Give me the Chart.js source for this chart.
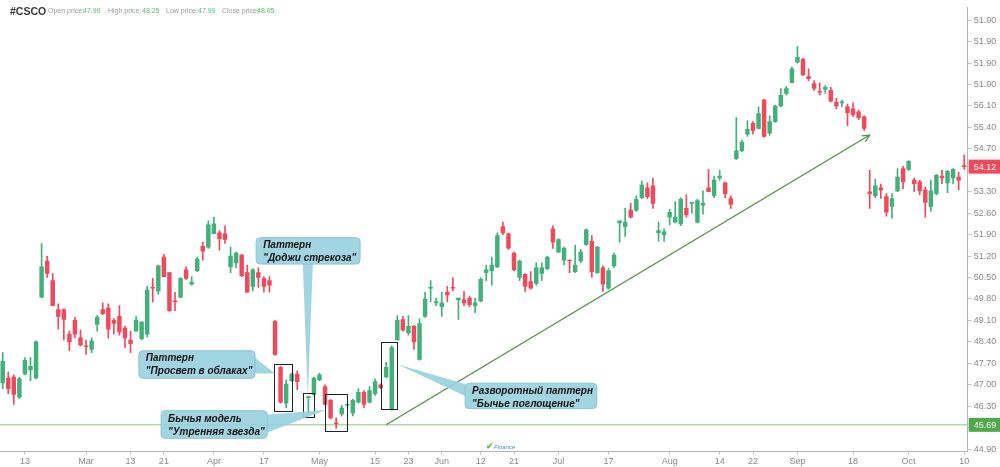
<!DOCTYPE html>
<html>
<head>
<meta charset="utf-8">
<script src="https://cdn.jsdelivr.net/npm/chart.js@4.4.0/dist/chart.umd.min.js"></script>
<style>
body{margin:0;background:#fff;}
#wrap{position:relative;width:1000px;height:467px;overflow:hidden;}
.hd{position:absolute;top:7px;font-family:"Liberation Sans",Arial,sans-serif;font-size:7px;color:#9a9a9a;white-space:nowrap;}
.val{color:#5cb87a;}
#ticker{position:absolute;left:10px;top:5px;font-family:"Liberation Sans",Arial,sans-serif;font-weight:bold;font-size:10.5px;color:#3a3a3a;}
#logo{position:absolute;left:486px;top:441px;font-family:"Liberation Sans",Arial,sans-serif;font-size:6px;font-style:italic;color:#3b8fd0;}
#logo b{color:#6cbf3a;font-size:9px;font-style:normal;}
</style>
</head>
<body>
<div id="wrap">
<canvas id="chart"></canvas>
<div id="ticker">#CSCO</div>
<div class="hd" style="left:48px">Open price:</div><div class="hd val" style="left:83px">47.99</div>
<div class="hd" style="left:108px">High price:</div><div class="hd val" style="left:142px">48.25</div>
<div class="hd" style="left:166px">Low price:</div><div class="hd val" style="left:198px">47.99</div>
<div class="hd" style="left:222px">Close price:</div><div class="hd val" style="left:257px">48.05</div>
<div id="logo"><b>&#10004;</b>Finance</div>
</div>
<script>
//data - daily candles, index = trading day
const opens = [47.06,47.22,47.25,46.59,47.35,47.48,47.22,49.86,51.04,50.40,49.45,49.45,48.65,49.10,48.53,48.27,48.15,48.97,49.45,49.51,
  49.10,49.23,48.85,48.46,48.75,48.50,48.65,50.18,50.06,51.17,50.66,49.74,49.86,50.75,50.28,50.72,51.52,51.49,51.93,51.96,
  51.93,50.85,50.98,51.23,50.66,50.21,50.66,50.47,50.40,49.07,47.57,46.40,47.13,47.35,null,46.58,46.68,47.16,46.94,46.49,
  45.75,46.05,46.33,46.08,46.43,46.75,46.43,46.71,47.00,47.26,46.20,48.46,49.13,48.69,48.91,47.83,49.23,50.15,49.67,49.55,
  50.02,50.18,49.77,49.77,49.83,49.58,49.74,50.66,50.72,50.85,52.16,51.93,51.30,50.50,50.60,50.37,50.31,50.63,50.79,52.09,
  51.33,51.07,51.07,50.69,51.04,51.58,51.68,50.66,50.82,50.15,50.88,52.28,52.16,52.70,52.70,53.11,53.43,53.49,51.96,51.90,
  52.47,52.31,52.25,52.76,52.92,52.31,52.86,53.43,53.17,53.75,53.59,53.08,54.38,54.64,55.18,55.53,55.37,56.29,55.21,55.59,
  56.10,56.51,56.86,57.53,57.63,57.06,56.83,56.58,56.64,56.61,56.23,56.20,56.07,56.01,55.91,55.75,53.30,53.17,53.43,53.14,
  52.82,53.33,54.06,54.03,53.68,53.62,53.36,52.82,53.24,53.81,53.59,53.75,53.78,54.15];
const highs = [48.05,47.41,47.32,47.25,47.89,47.89,48.43,51.61,51.20,50.63,49.64,49.48,48.75,49.20,48.78,48.46,48.53,49.26,49.67,49.64,
  49.16,49.58,48.91,48.75,49.23,49.07,50.21,50.47,50.91,51.26,50.66,50.02,50.50,50.85,50.53,51.17,51.65,52.35,52.47,52.03,
  52.19,51.49,51.33,51.26,50.91,50.79,50.82,50.53,50.53,49.10,47.60,47.16,47.38,47.45,null,46.62,47.25,47.38,47.00,46.52,
  45.92,46.33,46.36,46.52,46.87,46.81,46.94,47.19,47.03,47.73,48.27,49.26,49.23,49.26,48.94,49.16,50.02,50.40,49.83,50.02,
  50.21,50.50,49.83,50.05,49.89,49.83,50.50,50.91,51.17,51.96,52.31,51.96,51.33,51.07,50.63,50.69,50.98,50.98,51.20,52.19,
  51.77,51.49,51.07,51.55,51.42,52.09,51.87,51.52,50.88,50.79,51.30,52.35,52.76,52.92,53.17,53.65,53.59,53.75,52.31,52.09,
  52.73,52.98,53.11,53.20,52.95,53.05,53.33,54.03,53.81,54.00,53.62,53.17,55.72,54.99,55.62,55.59,56.07,56.32,55.78,56.13,
  56.67,56.74,57.37,58.04,57.66,57.31,56.93,56.86,56.77,56.71,56.36,56.29,56.16,56.20,55.97,55.78,54.00,53.71,53.55,53.24,
  53.24,54.06,54.13,54.32,53.75,53.68,53.46,53.68,53.87,54.00,54.00,54.06,53.94,54.50];
const lows = [46.87,46.71,46.36,46.55,47.32,47.13,47.19,49.83,50.50,49.58,48.81,48.46,48.11,48.53,48.27,47.99,48.05,48.75,49.29,48.53,
  48.65,48.62,48.21,48.05,48.75,48.46,48.56,49.70,49.96,50.53,49.39,49.42,49.83,50.44,50.25,50.69,51.07,51.45,51.93,51.39,
  51.61,50.66,50.82,50.53,50.02,50.06,50.18,50.02,50.02,47.96,46.40,46.24,47.10,46.84,null,46.05,46.65,47.13,46.33,45.88,
  45.57,45.98,46.30,45.98,46.40,46.24,46.40,46.65,46.87,47.22,46.17,48.46,48.75,48.62,48.15,47.80,49.20,49.70,49.58,49.23,
  49.70,50.06,49.13,49.58,49.55,49.35,49.70,50.40,50.25,50.82,51.90,51.42,50.72,50.40,50.05,50.12,50.25,50.40,50.75,51.45,
  51.33,50.91,50.66,50.66,50.98,51.55,50.50,50.63,50.05,50.12,50.82,51.65,51.84,52.44,52.66,53.08,53.08,52.76,51.68,51.68,
  52.22,52.28,52.19,52.47,52.60,52.28,52.57,53.30,53.11,53.68,53.11,52.76,54.35,54.61,55.11,55.18,55.34,55.08,55.15,55.56,
  56.07,56.45,56.86,57.50,57.09,56.93,56.61,56.45,56.51,56.23,56.01,56.07,55.46,55.75,55.65,55.30,52.76,53.11,53.08,52.50,
  52.44,53.30,53.40,54.00,53.30,53.20,52.47,52.66,53.20,53.56,53.27,53.56,53.36,54.03];
const closes = [47.76,46.87,46.68,47.19,47.80,47.60,48.40,50.85,50.63,49.58,49.23,49.13,48.40,48.65,48.30,48.24,48.43,49.20,49.32,48.81,
  49.00,48.72,48.53,48.34,49.10,49.04,50.09,50.15,50.88,50.53,49.42,49.70,50.47,50.47,50.34,51.10,51.36,52.22,52.25,51.77,
  51.74,51.20,51.30,50.56,50.02,50.75,50.50,50.21,50.25,47.99,46.43,47.02,47.35,47.10,null,46.60,47.22,47.32,46.36,45.92,
  45.72,46.24,46.36,46.49,46.75,46.36,46.81,47.10,46.90,47.57,48.21,49.10,48.78,48.91,48.40,49.00,49.80,50.18,49.70,49.67,
  49.93,50.15,49.83,49.67,49.61,49.67,50.44,50.75,50.91,51.87,51.96,51.46,50.75,51.04,50.21,50.15,50.82,50.82,51.17,51.65,
  51.74,51.45,51.04,50.91,51.33,52.06,50.69,51.49,50.28,50.72,51.23,52.35,52.31,52.47,53.05,53.52,53.14,52.92,52.03,51.99,
  52.63,52.47,53.05,52.54,52.95,53.01,52.92,53.30,53.68,53.81,53.24,52.89,54.64,54.92,55.34,55.30,55.85,55.11,55.59,56.10,
  56.45,56.67,57.31,57.69,57.12,56.99,56.67,56.55,56.71,56.26,56.10,56.23,55.88,55.82,55.72,55.37,53.24,53.49,53.36,52.63,
  53.08,53.78,53.62,54.29,53.56,53.33,52.95,53.33,53.84,53.75,53.97,54.03,53.68,54.12];

//axis labels
const xTickIdx = [4,15,23,29,38,47,57,67,73,79,86,92,100,109,120,129,135,143,153,163,173];
const xTickText = ['13','Mar','13','21','Apr','17','May','15','23','Jun','12','21','Jul','17','Aug','14','22','Sep','18','Oct','10'];
const yTickLabels = ['44.90','45.60','46.30','47.00','47.70','48.40','49.10','49.80','50.50','51.20','51.90','52.60','53.30','54.00',
  '54.70','55.40','56.10','51.90','51.90','51.90','51.90'];

//levels and markers
const supportLevel = 45.69;
const lastPrice = 54.12;
const trendFrom = {x: 69, y: 45.69};
const trendTo = {x: 156, y: 55.15};

//pattern boxes [x1, x2, priceTop, priceBottom]
const patternBoxes = [
  [48.9, 52.05, 47.69, 46.15],
  [54.1, 56.0, 46.73, 45.96],
  [58.0, 62.0, 46.70, 45.48],
  [68.0, 70.9, 48.40, 46.22]
];

//callouts: rect [x1,x2,top,bottom], pointer base points + tip
const callouts = [
  {lines: ['Паттерн', '"Доджи стрекоза"'], rect: [45.6, 64.3, 51.80, 50.94],
   base: [[54.0, 50.94], [55.8, 50.94]], tip: [54.9, 46.60]},
  {lines: ['Паттерн', '"Просвет в облаках"'], rect: [24.5, 45.4, 48.11, 47.21],
   base: [[45.4, 47.88], [45.4, 47.37]], tip: [49.0, 47.37]},
  {lines: ['Бычья модель', '"Утренняя звезда"'], rect: [28.5, 47.6, 46.15, 45.25],
   base: [[47.6, 46.02], [47.6, 45.44]], tip: [58.2, 46.18]},
  {lines: ['Разворотный паттерн', '"Бычье поглощение"'], rect: [83.2, 106.9, 47.05, 46.22],
   base: [[83.2, 47.02], [83.2, 46.63]], tip: [71.1, 47.66]}
];

const upColor = '#41b07a';
const downColor = '#ee4a5c';

//build datasets
const bodies = [];
const wicks = [];
const colors = [];
for (let i = 0; i < opens.length; i++) {
  if (opens[i] === null) continue;
  bodies.push({x: i, y: [opens[i], closes[i]]});
  wicks.push({x: i, y: [lows[i], highs[i]]});
  colors.push(closes[i] >= opens[i] ? upColor : downColor);
}

const toPx = (chart, x, y) => [chart.scales.x.getPixelForValue(x), chart.scales.y.getPixelForValue(y)];

const overlayPlugin = {
  id: 'overlay',
  afterDatasetsDraw(chart) {
    const ctx = chart.ctx;
    ctx.save();
    //arrow head on the trend line
    const a = toPx(chart, trendFrom.x, trendFrom.y);
    const b = toPx(chart, trendTo.x, trendTo.y);
    const ang = Math.atan2(b[1] - a[1], b[0] - a[0]);
    ctx.strokeStyle = '#4f8f3f';
    ctx.lineWidth = 1.2;
    ctx.beginPath();
    ctx.moveTo(b[0] - 8 * Math.cos(ang - 0.45), b[1] - 8 * Math.sin(ang - 0.45));
    ctx.lineTo(b[0], b[1]);
    ctx.lineTo(b[0] - 8 * Math.cos(ang + 0.45), b[1] - 8 * Math.sin(ang + 0.45));
    ctx.stroke();

    //pattern boxes
    ctx.strokeStyle = '#222';
    ctx.lineWidth = 1;
    for (const bx of patternBoxes) {
      const p1 = toPx(chart, bx[0], bx[2]);
      const p2 = toPx(chart, bx[1], bx[3]);
      ctx.strokeRect(Math.round(p1[0]) + 0.5, Math.round(p1[1]) + 0.5, Math.round(p2[0] - p1[0]), Math.round(p2[1] - p1[1]));
    }

    //callouts
    ctx.font = 'italic bold 10px "Liberation Sans", Arial, sans-serif';
    ctx.textBaseline = 'middle';
    for (const c of callouts) {
      const r1 = toPx(chart, c.rect[0], c.rect[2]);
      const r2 = toPx(chart, c.rect[1], c.rect[3]);
      const b1 = toPx(chart, c.base[0][0], c.base[0][1]);
      const b2 = toPx(chart, c.base[1][0], c.base[1][1]);
      const t = toPx(chart, c.tip[0], c.tip[1]);
      ctx.fillStyle = 'rgba(150,208,222,0.9)';
      ctx.beginPath();
      ctx.moveTo(b1[0], b1[1]);
      ctx.lineTo(t[0], t[1]);
      ctx.lineTo(b2[0], b2[1]);
      ctx.closePath();
      ctx.fill();
      ctx.beginPath();
      ctx.roundRect(r1[0], r1[1], r2[0] - r1[0], r2[1] - r1[1], 4);
      ctx.fill();
      ctx.strokeStyle = '#8cc4d2';
      ctx.stroke();
      ctx.fillStyle = '#111';
      ctx.textAlign = 'left';
      ctx.fillText(c.lines[0], r1[0] + 7, r1[1] + 8);
      ctx.fillText(c.lines[1], r1[0] + 7, r1[1] + 21);
    }
    ctx.restore();
  },
  afterDraw(chart) {
    //price badges on the right axis
    const ctx = chart.ctx;
    const left = chart.chartArea.right + 1;
    const badge = (v, color) => {
      const y = chart.scales.y.getPixelForValue(v);
      ctx.fillStyle = color;
      ctx.fillRect(left, y - 7, chart.width - left, 14);
      ctx.fillStyle = '#fff';
      ctx.font = '9px "Liberation Sans", Arial, sans-serif';
      ctx.textAlign = 'left';
      ctx.textBaseline = 'middle';
      ctx.fillText(v.toFixed(2), left + 5, y + 0.5);
    };
    ctx.save();
    badge(lastPrice, '#ee4a5c');
    badge(supportLevel, '#4ea94a');
    ctx.restore();
  }
};

const chart = new Chart(document.getElementById('chart'), {
  type: 'bar',
  data: {
    datasets: [
      {data: bodies, backgroundColor: colors, barThickness: 3.8, minBarLength: 1, grouped: false, order: 1},
      {data: wicks, backgroundColor: colors, barThickness: 1, grouped: false, order: 2},
      {type: 'line', data: [{x: -0.49, y: supportLevel}, {x: 173.63, y: supportLevel}], borderColor: '#8cc97a',
       borderWidth: 1, pointRadius: 0, order: 3},
      {type: 'line', data: [trendFrom, trendTo], borderColor: '#4f8f3f', borderWidth: 1.2, pointRadius: 0, order: 0}
    ]
  },
  options: {
    responsive: true,
    maintainAspectRatio: false,
    animation: false,
    layout: {padding: 0},
    plugins: {legend: {display: false}, tooltip: {enabled: false}},
    scales: {
      x: {
        type: 'linear', min: -0.486, max: 173.63, offset: false,
        afterFit: (s) => { s.height = 16; },
        afterBuildTicks: (s) => { s.ticks = xTickIdx.map(v => ({value: v})); },
        ticks: {
          autoSkip: false, maxRotation: 0, padding: 1,
          color: '#8a8a8a', font: {size: 9, family: '"Liberation Sans", Arial'},
          callback: (v) => xTickText[xTickIdx.indexOf(v)]
        },
        grid: {offset: false, drawOnChartArea: false, tickLength: 4, color: '#c8c8c8'},
        border: {color: '#b5b5b5'}
      },
      y: {
        position: 'right', min: 44.836, max: 59.319,
        afterFit: (s) => { s.width = 32.3; },
        afterBuildTicks: (s) => { s.ticks = yTickLabels.map((t, k) => ({value: Number((44.9 + 0.7 * k).toFixed(2))})); },
        ticks: {
          autoSkip: false, padding: 2,
          color: '#8a8a8a', font: {size: 9, family: '"Liberation Sans", Arial'},
          callback: (v, k) => yTickLabels[k]
        },
        grid: {drawOnChartArea: false, tickLength: 4, color: '#c8c8c8'},
        border: {color: '#b5b5b5'}
      }
    }
  },
  plugins: [overlayPlugin]
});
</script>
</body>
</html>
